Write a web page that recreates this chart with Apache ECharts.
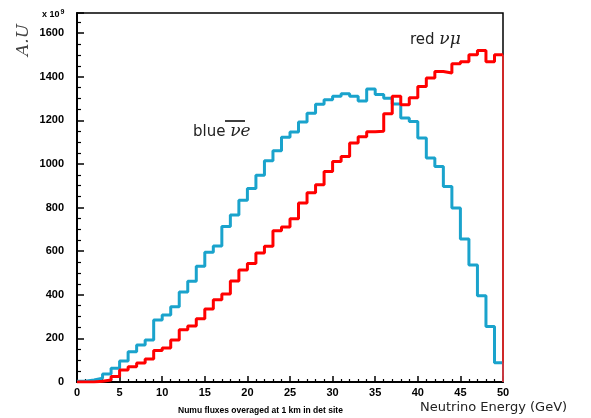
<!DOCTYPE html>
<html>
<head>
<meta charset="utf-8">
<script src="https://cdn.jsdelivr.net/npm/echarts@6/dist/echarts.min.js"></script>
<style>
    html, body { margin: 0; padding: 0; background: #fff; }
    #flux { width: 591px; height: 418px; }
</style>
</head>
<body>
<div id="flux"></div>
<script>
    // lower edge of each 1 GeV bin
    var binLow = [0, 1, 2, 3, 4, 5, 6, 7, 8, 9, 10, 11, 12, 13, 14, 15, 16, 17, 18, 19,
        20, 21, 22, 23, 24, 25, 26, 27, 28, 29, 30, 31, 32, 33, 34, 35, 36, 37, 38, 39,
        40, 41, 42, 43, 44, 45, 46, 47, 48, 49];
    var binTop = 50;

    // anti nu_e flux (x 10^9)
    var blueNuEbar = [3, 9, 17, 37, 63, 96, 139, 170, 193, 284, 307, 345, 413, 462, 531, 595, 624, 713, 766, 833,
        887, 948, 1015, 1060, 1122, 1146, 1192, 1232, 1274, 1294, 1310, 1322, 1310, 1289, 1344, 1318, 1301, 1275, 1211, 1194,
        1119, 1027, 988, 896, 798, 656, 537, 395, 254, 88];

    // nu_mu flux (x 10^9)
    var redNuMu = [0, 0, 3, 9, 25, 55, 70, 87, 105, 144, 156, 193, 240, 257, 290, 335, 377, 404, 463, 514,
        543, 592, 622, 693, 711, 748, 821, 868, 905, 965, 1011, 1034, 1096, 1124, 1148, 1150, 1230, 1310, 1271, 1303,
        1355, 1394, 1424, 1417, 1459, 1469, 1500, 1520, 1469, 1500];

    var xTicks = [0, 5, 10, 15, 20, 25, 30, 35, 40, 45, 50];
    var yTicks = [0, 200, 400, 600, 800, 1000, 1200, 1400, 1600];

    function histo(vals){
        var pts = [];
        for (var i = 0; i < vals.length; i++) {
            pts.push([binLow[i], vals[i]]);
        }
        pts.push([binTop, vals[vals.length - 1]]);
        return pts;
    }
    // closing edge of the histogram at the last bin
    function edge(vals){
        return [[binTop, vals[vals.length - 1]], [binTop, 0]];
    }

    var el = document.getElementById('flux');
    var myChart = echarts.init(el, null, {renderer: 'canvas'});
    var tickFont = {color: '#000', fontSize: 11, fontWeight: 'bold', fontFamily: 'Liberation Sans'};

    var option = {
        animation: false,
        grid: {
            left: 77, right: 88, top: 13, bottom: 36,
            show: true,
            borderColor: '#000',
            borderWidth: 1.5
        },
        xAxis: {
            type: 'value',
            min: 0, max: 50, interval: 5,
            axisLine: {onZero: false, lineStyle: {color: '#000', width: 2}},
            axisTick: {inside: true, length: 6, lineStyle: {color: '#000', width: 1.5}},
            minorTick: {show: true, splitNumber: 5, length: 3, lineStyle: {color: '#000', width: 1.2}},
            splitLine: {show: false},
            axisLabel: Object.assign({margin: 5, formatter: function (v) {
                return xTicks.indexOf(v) >= 0 ? String(v) : '';
            }}, tickFont)
        },
        yAxis: {
            type: 'value',
            min: 0, max: 1692, interval: 200,
            axisLine: {show: true, lineStyle: {color: '#000', width: 2}},
            axisTick: {inside: true, length: 7, lineStyle: {color: '#000', width: 1.5}},
            minorTick: {show: true, splitNumber: 4, length: 4, lineStyle: {color: '#000', width: 1.2}},
            splitLine: {show: false},
            axisLabel: Object.assign({margin: 13, formatter: function (v) {
                return yTicks.indexOf(v) >= 0 ? String(v) : '';
            }}, tickFont)
        },
        series: [
            {
                name: 'blue',
                type: 'line',
                step: 'end',
                symbol: 'none',
                data: histo(blueNuEbar),
                lineStyle: {color: '#1aa3cc', width: 3}
            },
            {
                name: 'blue edge',
                type: 'line',
                symbol: 'none',
                data: edge(blueNuEbar),
                lineStyle: {color: '#1aa3cc', width: 1.5}
            },
            {
                name: 'red',
                type: 'line',
                step: 'end',
                symbol: 'none',
                data: histo(redNuMu),
                lineStyle: {color: '#ff0000', width: 3}
            },
            {
                name: 'red edge',
                type: 'line',
                symbol: 'none',
                data: edge(redNuMu),
                lineStyle: {color: '#ff2020', width: 1.5}
            }
        ],
        graphic: [
            {
                type: 'text', x: 42, y: 15,
                style: {
                    text: '{b|x 10}{s|9}',
                    verticalAlign: 'middle',
                    rich: {
                        b: {fontSize: 9, fontWeight: 'bold', fontFamily: 'Liberation Sans', fill: '#000'},
                        s: {fontSize: 7, fontWeight: 'bold', fontFamily: 'Liberation Sans', fill: '#000', verticalAlign: 'top', padding: [0, 0, 6, 1]}
                    }
                }
            },
            {
                type: 'text', x: 24, y: 40, rotation: Math.PI / 2,
                style: {
                    text: 'A.U', align: 'center', verticalAlign: 'middle',
                    fontSize: 17, fontStyle: 'italic', fontFamily: 'DejaVu Serif', fill: '#444'
                }
            },
            {
                type: 'text', x: 193, y: 132,
                style: {
                    text: '{a|blue }{g|\u03bde}',
                    verticalAlign: 'middle',
                    rich: {
                        a: {fontSize: 15, fontFamily: 'DejaVu Sans', fill: '#222'},
                        g: {fontSize: 17, fontStyle: 'italic', fontFamily: 'DejaVu Serif', fill: '#222'}
                    }
                }
            },
            {
                type: 'line',
                shape: {x1: 225, y1: 121, x2: 245, y2: 121},
                style: {stroke: '#000', lineWidth: 1.5}
            },
            {
                type: 'text', x: 410, y: 40,
                style: {
                    text: '{a|red }{g|\u03bd\u03bc}',
                    verticalAlign: 'middle',
                    rich: {
                        a: {fontSize: 15, fontFamily: 'DejaVu Sans', fill: '#222'},
                        g: {fontSize: 17, fontStyle: 'italic', fontFamily: 'DejaVu Serif', fill: '#222'}
                    }
                }
            },
            {
                type: 'text', x: 420, y: 408,
                style: {
                    text: 'Neutrino Energy (GeV)', verticalAlign: 'middle',
                    fontSize: 13, fontFamily: 'DejaVu Sans', fill: '#222'
                }
            },
            {
                type: 'text', x: 178, y: 411,
                style: {
                    text: 'Numu fluxes overaged at 1 km in det site', verticalAlign: 'middle',
                    fontSize: 8.5, fontWeight: 'bold', fontFamily: 'Liberation Sans', fill: '#000'
                }
            }
        ]
    };
    myChart.setOption(option);
</script>
</body>
</html>
